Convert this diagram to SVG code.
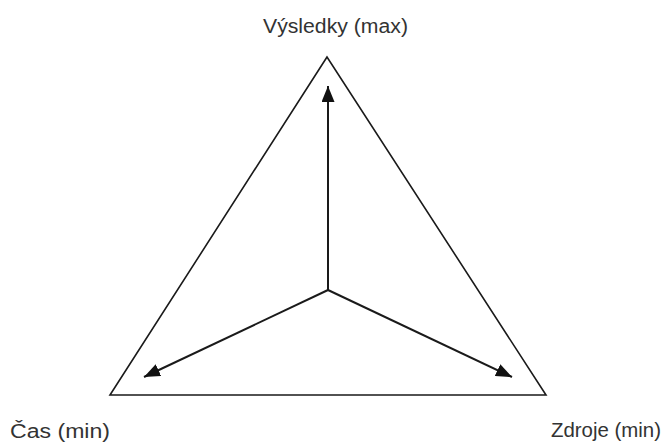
<svg xmlns="http://www.w3.org/2000/svg" width="662" height="444" viewBox="0 0 662 444">
<style>
.lbl{font-family:"Liberation Sans",Arial,sans-serif;font-size:20px;fill:#333}
.edge{stroke:#1a1a1a;stroke-width:2;fill:none}
</style>
<defs>
<marker id="a1" viewBox="0 0 16 13" refX="16" refY="6.5" markerWidth="16" markerHeight="13" markerUnits="userSpaceOnUse" orient="auto">
<path d="M0,0 L16,6.5 L0,13 z" fill="#111"/>
</marker>
</defs>
<rect width="662" height="444" fill="#fff"/>
<g id="triangle">
<polygon points="327,57 110,395 546,395" fill="none" stroke="#1a1a1a" stroke-width="1.6"/>
</g>
<g id="node-vysledky"><text class="lbl" x="263" y="33" textLength="145" lengthAdjust="spacingAndGlyphs">Výsledky (max)</text></g>
<g id="node-cas"><text class="lbl" x="10" y="438" textLength="100" lengthAdjust="spacingAndGlyphs">Čas (min)</text></g>
<g id="node-zdroje"><text class="lbl" x="551" y="437" textLength="110" lengthAdjust="spacingAndGlyphs">Zdroje (min)</text></g>
<g id="connectors">
<line class="edge" x1="328" y1="290" x2="328" y2="86" marker-end="url(#a1)"/>
<line class="edge" x1="328" y1="290" x2="144" y2="377" marker-end="url(#a1)"/>
<line class="edge" x1="328" y1="290" x2="512" y2="377" marker-end="url(#a1)"/>
</g>
</svg>
